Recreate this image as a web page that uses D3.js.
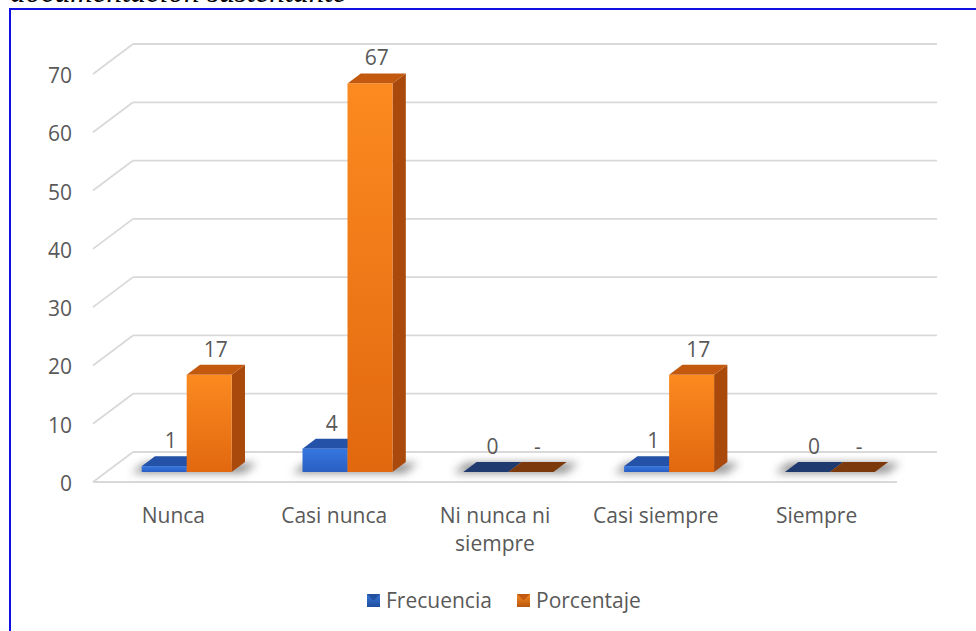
<!DOCTYPE html>
<html>
<head>
<meta charset="utf-8">
<script src="https://cdn.jsdelivr.net/npm/d3@7"></script>
<style>
  body { margin: 0; background: #fff; }
  svg text { font-family: "Open Sans", sans-serif; fill: #595959; }
</style>
</head>
<body>
<svg id="chart" width="976" height="631"></svg>
<script>
const categories = ["Nunca", "Casi nunca", "Ni nunca ni siempre", "Casi siempre", "Siempre"];
const frecuencia = [1, 4, 0, 1, 0];
const porcentaje = [16.67, 66.67, 0, 16.67, 0];
const frecLabels = ["1", "4", "0", "1", "0"];
const porcLabels = ["17", "67", "-", "17", "-"];
const yTicks = [0, 10, 20, 30, 40, 50, 60, 70];
const seriesNames = ["Frecuencia", "Porcentaje"];

const svg = d3.select("#chart");
const m = {left: 93, right: 79, top: 74, bottom: 149};
const W = +svg.attr("width"), H = +svg.attr("height");
const depth = {dx: 40, dy: -30};       // wall depth
const barOff = {dx: 13.3, dy: -10};     // bar front position inside depth
const barDepth = {dx: 13.3, dy: -10};
const fs = "21px";

const defs = svg.append("defs");
const grad = (id, c1, c2, vertical) => {
  const g = defs.append("linearGradient").attr("id", id)
    .attr("x1", 0).attr("y1", 0).attr("x2", vertical ? 0 : 1).attr("y2", vertical ? 1 : 0);
  g.append("stop").attr("offset", "0%").attr("stop-color", c1);
  g.append("stop").attr("offset", "100%").attr("stop-color", c2);
};
grad("bFront", "#3577e0", "#2a5fc2", true);
grad("oFront", "#fb8a20", "#e2680f", true);
grad("bLeg", "#3a78d8", "#1e4d9e", true);
grad("oLeg", "#f68a22", "#b9560c", true);
defs.append("filter").attr("id", "blur").attr("x", "-50%").attr("y", "-200%")
  .attr("width", "200%").attr("height", "500%")
  .append("feGaussianBlur").attr("stdDeviation", 4);

const colors = [
  {front: "url(#bFront)", side: "#1d4189", top: "#2352a8", flat: "#1f3a6e"},
  {front: "url(#oFront)", side: "#a9490b", top: "#c2590f", flat: "#7c390b"}
];

// title (cut by the page top)
svg.append("text").attr("x", 10).attr("y", 1.5)
  .style("font-family", "'Liberation Serif', serif").style("font-style", "italic")
  .style("font-size", "31px").style("fill", "#000")
  .text("documentación sustentante");

// frame
svg.append("rect").attr("x", 10).attr("y", 9).attr("width", 980).attr("height", 640)
  .attr("fill", "none").attr("stroke", "#1010e0").attr("stroke-width", 2);

const x = d3.scaleBand().domain(categories).range([m.left, W - m.right]);
const xs = d3.scaleBand().domain(seriesNames).range([0, 90]);
const y = d3.scaleLinear().domain([0, 70]).range([H - m.bottom, m.top]);

// walls: grid lines
const grid = svg.append("g").attr("stroke", "#d9d9d9").attr("stroke-width", 1.8).attr("fill", "none");
yTicks.forEach(t => {
  const yf = y(t);
  grid.append("line").attr("x1", m.left).attr("y1", yf)
    .attr("x2", m.left + depth.dx).attr("y2", yf + depth.dy);
  grid.append("line").attr("x1", m.left + depth.dx).attr("y1", yf + depth.dy)
    .attr("x2", W - m.right + depth.dx).attr("y2", yf + depth.dy);
});
grid.append("line").attr("x1", m.left).attr("y1", y(0))
  .attr("x2", W - m.right).attr("y2", y(0));

// y labels
svg.append("g").selectAll("text").data(yTicks).join("text")
  .attr("x", 72).attr("y", d => y(d) + 9)
  .attr("text-anchor", "end").style("font-size", fs).text(d => d);

// bars
const bars = [];
categories.forEach((c, i) => {
  [frecuencia[i], porcentaje[i]].forEach((v, s) => {
    bars.push({c, s, v, label: s === 0 ? frecLabels[i] : porcLabels[i]});
  });
});

const gx = d => x(d.c) + (x.bandwidth() - 90) / 2 + xs(seriesNames[d.s]) + barOff.dx;
const base = y(0) + barOff.dy;
const vh = d => y(0) - y(d.v);

// shadows
svg.append("g").selectAll("path").data(categories).join("path")
  .attr("d", c => {
    const x0 = x(c) + (x.bandwidth() - 90) / 2 + barOff.dx - 10, x1 = x0 + 112;
    return `M${x0},${base + 1} L${x1},${base + 1} L${x1 + barDepth.dx},${base + barDepth.dy + 1} L${x0 + barDepth.dx},${base + barDepth.dy + 1}Z`;
  })
  .attr("fill", "#444").attr("opacity", 0.6).attr("filter", "url(#blur)");

const bg = svg.append("g").selectAll("g").data(bars).join("g");
bg.each(function(d) {
  const g = d3.select(this);
  const x0 = gx(d), w = xs.bandwidth(), h = vh(d), top = base - h;
  const col = colors[d.s];
  if (d.v === 0) {
    g.append("path")
      .attr("d", `M${x0},${base} L${x0 + w},${base} L${x0 + w + barDepth.dx},${base + barDepth.dy} L${x0 + barDepth.dx},${base + barDepth.dy}Z`)
      .attr("fill", col.flat);
    return;
  }
  g.append("path")
    .attr("d", `M${x0 + w},${base} L${x0 + w + barDepth.dx},${base + barDepth.dy} L${x0 + w + barDepth.dx},${top + barDepth.dy} L${x0 + w},${top}Z`)
    .attr("fill", col.side);
  g.append("path")
    .attr("d", `M${x0},${top} L${x0 + w},${top} L${x0 + w + barDepth.dx},${top + barDepth.dy} L${x0 + barDepth.dx},${top + barDepth.dy}Z`)
    .attr("fill", col.top);
  g.append("rect").attr("x", x0).attr("y", top).attr("width", w).attr("height", h)
    .attr("fill", col.front);
});

// data labels
svg.append("g").selectAll("text").data(bars).join("text")
  .attr("x", d => gx(d) + xs.bandwidth() / 2 + barDepth.dx / 2)
  .attr("y", d => base - vh(d) + barDepth.dy - 8)
  .attr("text-anchor", "middle").style("font-size", fs)
  .text(d => d.label);

// category labels
const wrap = {"Ni nunca ni siempre": ["Ni nunca ni", "siempre"]};
const cl = svg.append("g").selectAll("text").data(categories).join("text")
  .attr("x", c => x(c) + x.bandwidth() / 2)
  .attr("y", 523).attr("text-anchor", "middle").style("font-size", fs);
cl.each(function(c) {
  const lines = wrap[c] || [c];
  d3.select(this).selectAll("tspan").data(lines).join("tspan")
    .attr("x", x(c) + x.bandwidth() / 2).attr("dy", (l, j) => j ? 28 : 0).text(l => l);
});

// legend
const leg = svg.append("g").attr("transform", "translate(367,594)");
const legPos = [0, 150];
seriesNames.forEach((s, i) => {
  const g = leg.append("g").attr("transform", `translate(${legPos[i]},0)`);
  g.append("rect").attr("width", 13).attr("height", 13).attr("fill", i ? "url(#oLeg)" : "url(#bLeg)");
  g.append("path").attr("d", "M0,0 L13,0 L6.5,6.5Z").attr("fill", i ? "#c25a10" : "#2450a0");
  g.append("text").attr("x", 19).attr("y", 14).style("font-size", fs).text(s);
});
</script>
</body>
</html>
